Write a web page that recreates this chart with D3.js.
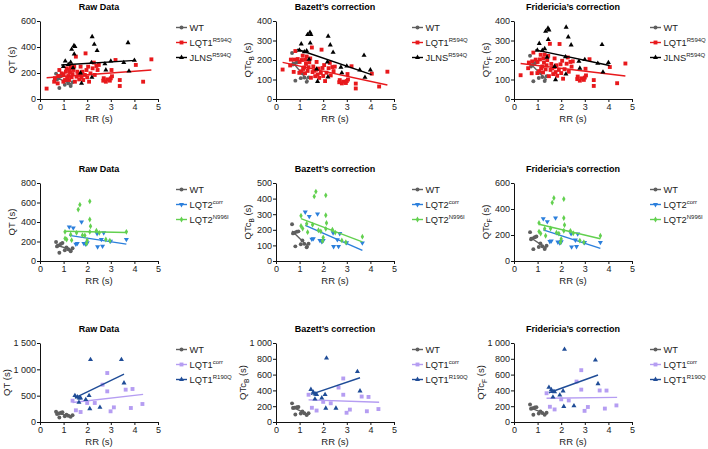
<!DOCTYPE html>
<html><head><meta charset="utf-8">
<script src="https://cdn.jsdelivr.net/npm/d3@7"></script>
<style>body{margin:0;background:#fff;} svg{display:block;font-family:"Liberation Sans",Arial,sans-serif;}</style>
</head><body><svg id="c" width="708" height="449"></svg>
<script>
// ---------- data ----------
const xTicks = [0,1,2,3,4,5];
const titles = ["Raw Data","Bazett\u2019s correction","Fridericia\u2019s correction"];

const wtRR   = [0.68,0.72,0.78,0.82,0.88,0.95,1.05,1.12,1.2,1.3,1.38];
const wtQT   = [195,150,160,85,175,185,110,140,120,100,130];
const wtQTcB = [236,177,181,94,187,190,107,132,110,88,111];
const wtQTcF = [222,167,174,91,183,188,108,135,113,92,117];
const wtFitQT = [[0.68,164],[1.38,112]];
const wtFitB  = [[0.68,192],[1.38,89]];
const wtFitF  = [[0.68,183],[1.38,97]];

// row 1
const r594RR = [0.28,0.6,0.63,0.77,0.82,0.92,0.99,1.06,1.1,1.13,1.2,1.23,1.27,1.3,1.34,1.38,1.41,1.48,1.52,1.55,1.58,1.62,1.66,1.72,1.76,1.8,1.83,1.9,1.93,1.97,2.0,2.04,2.08,2.14,2.23,2.28,2.32,2.39,2.44,2.49,2.68,2.79,2.85,2.96,3.0,3.03,3.2,3.38,3.38,4.06,4.37,4.72,1.0,1.15,1.25,1.45,1.7,0.75,2.7,3.05];
const r594QT = [80,133,160,177,223,197,133,146,210,236,177,146,203,249,167,192,223,133,326,172,210,185,151,249,167,210,146,185,351,223,167,249,133,197,236,280,185,254,223,262,141,133,151,141,159,223,300,146,100,262,133,305,190,165,225,250,195,120,160,175];
const r594QTcB = [151,172,202,202,246,205,134,142,200,222,162,132,180,218,144,163,188,109,264,138,167,145,117,190,126,156,108,134,253,159,118,174,92,135,158,185,121,164,143,166,86,80,89,82,92,128,168,79,54,130,64,140,190,154,201,208,150,139,97,100];
const r594QTcF = [122,158,187,193,238,202,133,143,203,227,167,136,187,228,152,173,199,117,283,149,180,158,128,208,138,173,119,149,282,178,133,196,104,153,181,213,140,190,166,193,102,94,106,98,110,155,204,97,67,164,81,182,190,157,209,221,163,132,115,121];
const r594FitQT = [[0.28,164],[4.72,223]];
const r594FitB  = [[0.28,188],[4.72,72]];
const r594FitF  = [[0.28,182],[4.72,118]];

const jlnsRR = [0.99,1.07,1.2,1.3,1.34,1.44,1.48,1.45,2.21,2.3,2.42,3.73,2.18,2.79,2.75,3.0,3.55,4.0,3.77,2.2,1.76,1.72,1.4];
const jlnsQT = [249,292,265,282,382,410,403,345,479,420,372,433,280,223,270,292,280,297,215,167,120,200,240];
const jlnsQTcB = [250,282,242,247,330,342,331,287,322,277,239,224,190,134,163,169,149,149,111,113,90,153,203];
const jlnsQTcF = [250,285,249,258,347,363,354,305,368,318,277,279,216,158,193,202,183,187,138,128,99,167,214];
const jlnsFitQT = [[0.9,262],[4.05,297]];
const jlnsFitB  = [[0.9,255],[4.05,125]];
const jlnsFitF  = [[0.9,252],[4.05,172]];

// row 2
const l2cRR = [1.24,1.41,1.76,1.58,1.52,1.86,1.94,2.0,2.42,2.44,2.6,2.65,2.7,2.99,3.66];
const l2cQT = [350,340,401,180,173,180,173,187,282,146,221,153,289,204,221];
const l2cQTcB = [314,286,302,143,140,132,124,132,181,93,137,94,176,118,116];
const l2cQTcF = [326,303,332,155,150,146,139,148,210,108,161,111,208,142,143];
const l2cFitQT = [[1.24,263],[3.66,173]];
const l2cFitB  = [[1.24,228],[3.66,68]];
const l2cFitF  = [[1.24,240],[3.66,97]];

const l2nRR = [1.06,1.06,1.13,1.3,1.34,1.55,1.62,1.69,1.8,1.9,1.97,2.0,2.11,2.11,2.14,2.11,2.39,2.51,2.79,2.96,3.66];
const l2nQT = [231,299,221,272,214,289,527,578,265,262,180,214,612,425,357,299,310,289,221,207,299];
const l2nQTcB = [224,290,208,239,185,232,414,445,197,190,128,151,421,293,244,206,200,182,132,120,156];
const l2nQTcF = [226,293,212,249,194,250,449,485,218,211,144,170,477,331,277,233,232,213,157,144,194];
const l2nFitQT = [[1.06,305],[3.66,292]];
const l2nFitB  = [[1.06,272],[3.66,122]];
const l2nFitF  = [[1.06,283],[3.66,171]];

// row 3
const l1cRR = [1.38,1.52,1.72,2.0,2.32,2.65,2.85,2.85,2.99,3.13,3.63,3.92,3.85,4.34];
const l1cQT = [405,222,190,361,361,709,930,582,203,278,614,627,266,342];
const l1cQTcB = [345,180,145,255,237,436,551,345,117,157,322,317,136,164];
const l1cQTcF = [364,193,159,287,273,512,656,410,141,190,399,398,170,210];
const l1cFitQT = [[1.38,370],[4.37,525]];
const l1cFitB  = [[1.38,280],[4.37,250]];
const l1cFitF  = [[1.38,300],[4.37,312]];

const r190RR = [1.48,1.58,1.66,1.72,1.65,1.94,2.08,2.11,2.14,2.54,3.45,3.56];
const r190QT = [500,475,456,456,373,424,500,253,1184,278,1184,741];
const r190QTcB = [411,378,354,348,290,304,347,174,809,174,638,393];
const r190QTcF = [439,408,385,381,316,340,392,197,919,204,784,485];
const r190FitQT = [[1.48,456],[3.56,911]];
const r190FitB  = [[1.48,350],[3.56,560]];
const r190FitF  = [[1.48,370],[3.56,595]];

// y ticks per row / column
const yTicksR1 = [[0,200,400,600],[0,100,200,300,400],[0,100,200,300,400]];
const yTicksR2 = [[0,200,400,600,800],[0,100,200,300,400,500],[0,200,400,600]];
const yTicksR3 = [[0,500,1000,1500],[0,200,400,600,800,1000],[0,200,400,600,800,1000]];

// ---------- styles ----------
const C = {wt:"#5f5f5f", red:"#e8191c", black:"#000000", blue:"#2b7fdc", green:"#62d04f", lav:"#b59df2", navy:"#1f4c97"};
const S = {
  circle:d3.symbol().type(d3.symbolCircle).size(12),
  square:d3.symbol().type(d3.symbolSquare).size(15),
  tri:d3.symbol().type(d3.symbolTriangle).size(11),
  itri:d3.symbol().type(d3.symbolTriangle).size(11),
  diamond:d3.symbol().type(d3.symbolDiamond).size(10)
};

function mk(RR, vals){ return RR.map((r,i)=>[r, vals[i]]); }

const rows = [
  { top:21, bottom:99, yt:yTicksR1, ylabOff:-28,
    series:[
      {name:"WT", sup:"", color:C.wt, sym:"circle", data:[mk(wtRR,wtQT),mk(wtRR,wtQTcB),mk(wtRR,wtQTcF)], fit:[wtFitQT,wtFitB,wtFitF]},
      {name:"LQT1", sup:"R594Q", color:C.red, sym:"square", data:[mk(r594RR,r594QT),mk(r594RR,r594QTcB),mk(r594RR,r594QTcF)], fit:[r594FitQT,r594FitB,r594FitF]},
      {name:"JLNS", sup:"R594Q", color:C.black, sym:"tri", data:[mk(jlnsRR,jlnsQT),mk(jlnsRR,jlnsQTcB),mk(jlnsRR,jlnsQTcF)], fit:[jlnsFitQT,jlnsFitB,jlnsFitF]}
    ]},
  { top:183, bottom:261, yt:yTicksR2, ylabOff:-28,
    series:[
      {name:"WT", sup:"", color:C.wt, sym:"circle", data:[mk(wtRR,wtQT),mk(wtRR,wtQTcB),mk(wtRR,wtQTcF)], fit:[wtFitQT,wtFitB,wtFitF]},
      {name:"LQT2", sup:"corr", color:C.blue, sym:"itri", data:[mk(l2cRR,l2cQT),mk(l2cRR,l2cQTcB),mk(l2cRR,l2cQTcF)], fit:[l2cFitQT,l2cFitB,l2cFitF]},
      {name:"LQT2", sup:"N996I", color:C.green, sym:"diamond", data:[mk(l2nRR,l2nQT),mk(l2nRR,l2nQTcB),mk(l2nRR,l2nQTcF)], fit:[l2nFitQT,l2nFitB,l2nFitF]}
    ]},
  { top:343, bottom:422, yt:yTicksR3, ylabOff:-33,
    series:[
      {name:"WT", sup:"", color:C.wt, sym:"circle", data:[mk(wtRR,wtQT),mk(wtRR,wtQTcB),mk(wtRR,wtQTcF)], fit:[wtFitQT,wtFitB,wtFitF]},
      {name:"LQT1", sup:"corr", color:C.lav, sym:"square", data:[mk(l1cRR,l1cQT),mk(l1cRR,l1cQTcB),mk(l1cRR,l1cQTcF)], fit:[l1cFitQT,l1cFitB,l1cFitF]},
      {name:"LQT1", sup:"R190Q", color:C.navy, sym:"tri", data:[mk(r190RR,r190QT),mk(r190RR,r190QTcB),mk(r190RR,r190QTcF)], fit:[r190FitQT,r190FitB,r190FitF]}
    ]}
];
const colLeft = [40,276,514];
const plotW = 118;
const ySub = ["", "B", "F"];

const svg = d3.select("#c");
const fmt = d => d >= 1000 ? String(d).replace(/(\d)(\d{3})$/, "$1 $2") : String(d);

function drawSym(g, type, color, x, y){
  return g.append("path").attr("d", S[type]()).attr("fill", color)
    .attr("transform", `translate(${x},${y})` + (type==="itri" ? " rotate(180)" : ""));
}

rows.forEach((row, ri) => {
  colLeft.forEach((left, ci) => {
    const g = svg.append("g");
    const x = d3.scaleLinear().domain([0,5]).range([left, left+plotW]);
    const ticks = row.yt[ci];
    const y = d3.scaleLinear().domain([0, ticks[ticks.length-1]]).range([row.bottom, row.top]);

    const xa = g.append("g").attr("transform", `translate(0,${row.bottom})`)
      .call(d3.axisBottom(x).tickValues(xTicks).tickSizeInner(3).tickSizeOuter(0).tickPadding(2).tickFormat(d3.format("d")));
    const ya = g.append("g").attr("transform", `translate(${left},0)`)
      .call(d3.axisLeft(y).tickValues(ticks).tickSizeInner(3).tickSizeOuter(0).tickPadding(1).tickFormat(fmt));
    [xa, ya].forEach(a => {
      a.selectAll("text").attr("font-size", 9).attr("fill", "#222").attr("font-family", "Liberation Sans, Arial, sans-serif");
      a.selectAll("path,line").attr("stroke", "#111").attr("stroke-width", 1);
    });

    g.append("text").attr("x", left + plotW/2).attr("y", row.top - 11.5)
      .attr("text-anchor", "middle").attr("font-size", 9).attr("font-weight", "bold").text(titles[ci]);
    g.append("text").attr("x", left + plotW/2).attr("y", row.bottom + 22.5)
      .attr("text-anchor", "middle").attr("font-size", 9.5).attr("fill", "#222").text("RR (s)");
    const yl = g.append("text").attr("transform", `translate(${left + row.ylabOff},${(row.top+row.bottom)/2}) rotate(-90)`)
      .attr("text-anchor", "middle").attr("dy", "0.35em").attr("font-size", 9.5).attr("fill", "#222");
    if (ci === 0) { yl.text("QT (s)"); }
    else {
      yl.append("tspan").text("QTc");
      yl.append("tspan").attr("font-size", 6.5).attr("dy", 2.5).text(ySub[ci]);
      yl.append("tspan").attr("dy", -2.5).text(" (s)");
    }

    row.series.forEach(s => {
      const lineGen = d3.line().x(d => x(d[0])).y(d => y(d[1]));
      s.data[ci].forEach(d => drawSym(g, s.sym, s.color, x(d[0]), y(d[1])));
      g.append("path").attr("d", lineGen(s.fit[ci])).attr("stroke", s.color).attr("stroke-width", 1.4).attr("fill", "none");
    });

    const lx = left + 136;
    [6.5, 21.5, 36.5].forEach((dy, si) => {
      const s = row.series[si];
      const ly = row.top + dy;
      g.append("line").attr("x1", lx).attr("x2", lx + 11).attr("y1", ly).attr("y2", ly)
        .attr("stroke", s.color).attr("stroke-width", 1.4);
      drawSym(g, s.sym, s.color, lx + 5.5, ly);
      const t = g.append("text").attr("x", lx + 13.5).attr("y", ly).attr("dy", "0.35em")
        .attr("font-size", 9.3).attr("fill", "#222");
      t.append("tspan").text(s.name);
      if (s.sup) t.append("tspan").attr("font-size", 6).attr("dy", -4).text(s.sup);
    });
  });
});
</script>
</body></html>
